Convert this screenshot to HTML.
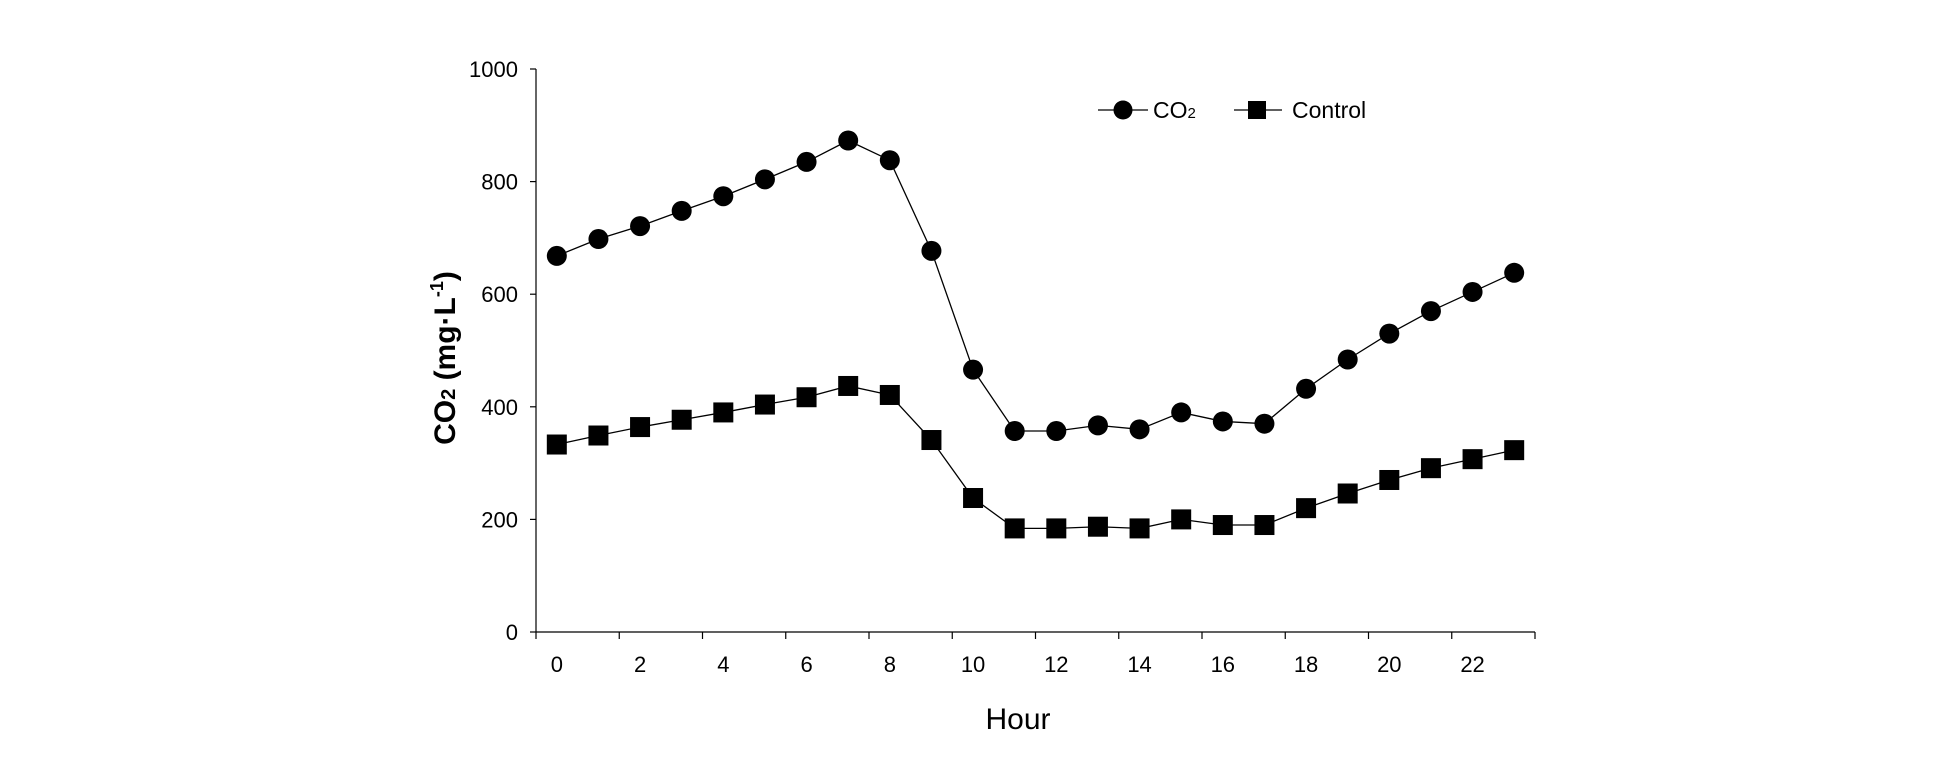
<!DOCTYPE html>
<html><head><meta charset="utf-8"><style>
body{margin:0;background:#fff}
text{font-family:"Liberation Sans",sans-serif}
</style></head><body>
<svg id="chart" width="1940" height="765" viewBox="0 0 1940 765" xmlns="http://www.w3.org/2000/svg">
<g id="axes"></g><g id="series"></g>
<g>
 <line x1="1098" y1="110" x2="1148" y2="110" stroke="#000" stroke-width="1.3"/>
 <circle cx="1123" cy="110" r="9.5" fill="#000"/>
 <text x="1153" y="118" font-size="23">CO<tspan font-size="15">2</tspan></text>
 <line x1="1234" y1="110" x2="1282" y2="110" stroke="#000" stroke-width="1.3"/>
 <rect x="1248" y="101" width="18" height="18" fill="#000"/>
 <text x="1292" y="118" font-size="23">Control</text>
</g>
<text x="1018" y="729" font-size="30" text-anchor="middle">Hour</text>
<text transform="translate(455,358) rotate(-90)" font-size="30" font-weight="bold" text-anchor="middle">CO<tspan font-size="20">2</tspan> (mg·L<tspan font-size="18" dy="-12">-1</tspan><tspan dy="12">)</tspan></text>
</svg>
<script>
const hours=[0,1,2,3,4,5,6,7,8,9,10,11,12,13,14,15,16,17,18,19,20,21,22,23];
const co2=[668,698,721,748,774,804,835,873,838,677,466,357,357,367,360,390,374,370,432,484,530,570,604,638];
const control=[333,349,364,377,390,404,417,437,421,341,238,184,184,187,184,200,190,190,220,246,270,291,307,323];
const yTicks=[0,200,400,600,800,1000];
const xTickLabels=[0,2,4,6,8,10,12,14,16,18,20,22];
const NS="http://www.w3.org/2000/svg";
const L=536,R=1535,T=69,B=632,slot=(R-L)/hours.length;
const x=h=>L+slot*(h+0.5);
const y=v=>B-(v/1000)*(B-T);
function mk(t,a,p){const e=document.createElementNS(NS,t);for(const k in a)e.setAttribute(k,a[k]);p.appendChild(e);return e;}
const ax=document.getElementById('axes');
let e=mk('line',{x1:L,y1:T,x2:L,y2:B,stroke:'#000','stroke-width':1.2},ax);


e=mk('line',{x1:L,y1:B,x2:R,y2:B,stroke:'#000','stroke-width':1.2},ax);


yTicks.forEach(v=>{
 mk('line',{x1:L-6,y1:y(v),x2:L,y2:y(v),stroke:'#000','stroke-width':1.2},ax);
 const t=mk('text',{x:518,y:y(v)+8,'font-size':22,'text-anchor':'end'},ax);
 t.textContent=v;
 
 
});
for(let i=0;i<=hours.length;i+=2){
 mk('line',{x1:L+slot*i,y1:B,x2:L+slot*i,y2:B+7,stroke:'#000','stroke-width':1.2},ax);
}
xTickLabels.forEach(h=>{
 const t=mk('text',{x:x(h),y:672,'font-size':22,'text-anchor':'middle'},ax);
 t.textContent=h;
 
 
});
const sg=document.getElementById('series');
function series(vals,name,shape){
 const g=mk('g',{},sg);
 
 
 mk('polyline',{points:vals.map((v,i)=>x(hours[i])+','+y(v)).join(' '),fill:'none',stroke:'#000','stroke-width':1.3},g);
 vals.forEach((v,i)=>{
  let m;
  if(shape==='circle')m=mk('circle',{cx:x(hours[i]),cy:y(v),r:10,fill:'#000'},g);
  else m=mk('rect',{x:x(hours[i])-10,y:y(v)-10,width:20,height:20,fill:'#000'},g);
  
  
 });
}
series(co2,'co2','circle');
series(control,'control','square');
</script>
</body></html>
